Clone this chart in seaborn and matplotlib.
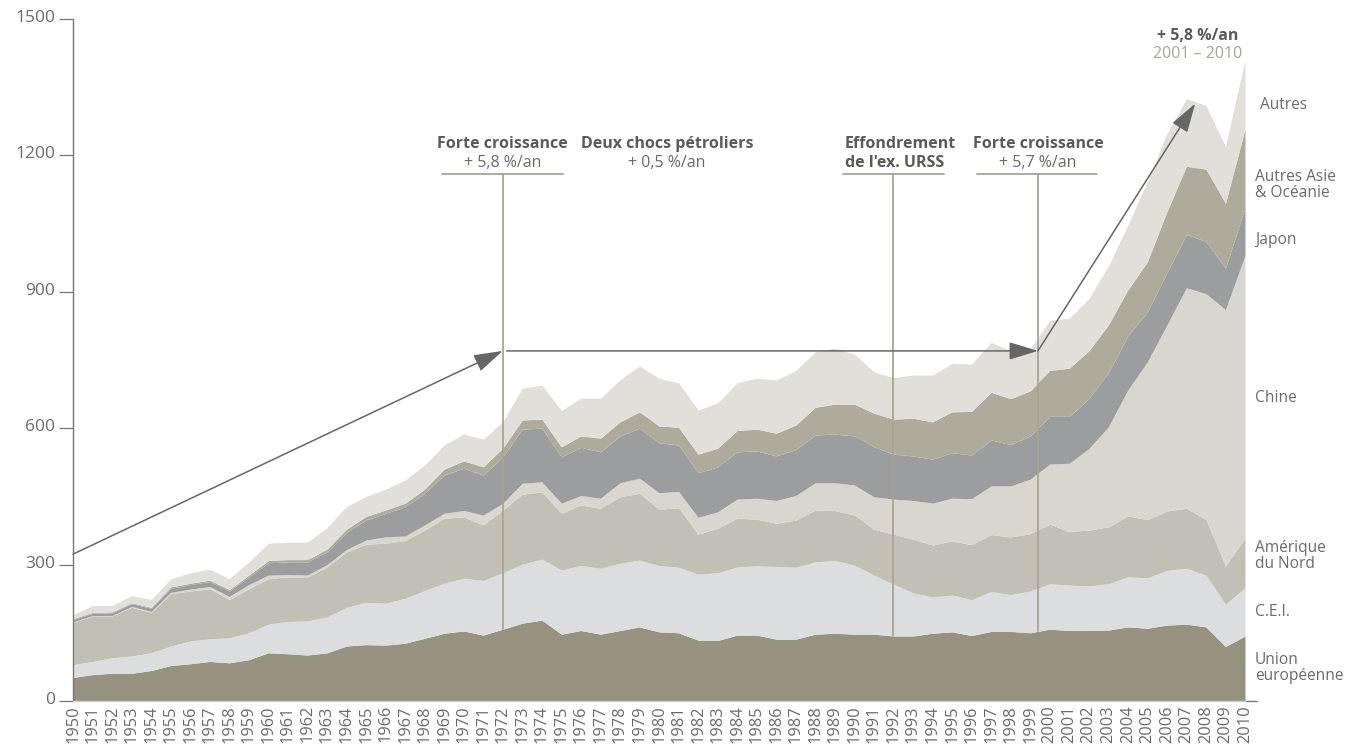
import numpy as np
import pandas as pd
import matplotlib
matplotlib.use("Agg")
import matplotlib.pyplot as plt
import matplotlib.transforms as mtransforms
import seaborn as sns

# production mondiale d'acier brut (Mt)
years = list(range(1950, 2011))

union_europeenne = [52, 58, 61, 61, 67, 78, 82, 87, 84, 91,
                    106, 104, 101, 106, 121, 124, 123, 127, 138, 149,
                    154, 145, 158, 171, 178, 147, 155, 147, 155, 163,
                    152, 150, 134, 133, 145, 145, 136, 136, 147, 149,
                    147, 147, 143, 143, 149, 152, 144, 153, 153, 150,
                    158, 155, 155, 156, 163, 160, 167, 169, 163, 120, 143]
cei = [28, 29, 34, 38, 39, 43, 50, 50, 55, 59,
       63, 71, 75, 79, 85, 93, 92, 99, 105, 110,
       116, 120, 124, 130, 134, 141, 143, 145, 148, 147,
       146, 144, 145, 149, 150, 152, 160, 158, 159, 160,
       152, 130, 114, 95, 80, 81, 79, 88, 81, 92,
       100, 100, 98, 102, 110, 111, 120, 123, 114, 93, 106]
amerique_nord = [93, 100, 92, 107, 89, 115, 110, 110, 84, 97,
                 100, 98, 97, 110, 122, 128, 132, 127, 133, 143,
                 135, 122, 138, 154, 148, 125, 133, 132, 146, 147,
                 124, 131, 88, 98, 107, 103, 95, 104, 114, 110,
                 110, 101, 110, 118, 114, 119, 121, 125, 127, 126,
                 131, 118, 123, 125, 134, 128, 131, 132, 122, 84, 110]
chine = [1, 1, 1, 2, 2, 3, 4, 5, 7, 9,
         8, 5, 4, 5, 5, 9, 14, 10, 11, 11,
         14, 22, 15, 24, 22, 22, 21, 22, 31, 33,
         36, 36, 37, 36, 42, 46, 50, 54, 60, 61,
         66, 71, 77, 85, 92, 94, 101, 107, 112, 120,
         132, 150, 179, 220, 277, 347, 409, 485, 497, 564, 621]
japon = [5, 5, 6, 6, 7, 9, 10, 11, 12, 17,
         27, 28, 29, 28, 38, 44, 52, 64, 70, 84,
         93, 88, 102, 119, 118, 102, 106, 102, 103, 110,
         110, 102, 98, 99, 104, 104, 98, 101, 105, 107,
         108, 110, 99, 98, 97, 100, 96, 101, 91, 95,
         105, 103, 110, 119, 119, 110, 115, 117, 115, 91, 106]
autres_asie = [2, 2, 2, 2, 2, 3, 3, 3, 3, 4,
               5, 5, 5, 6, 7, 8, 7, 8, 9, 13,
               16, 18, 19, 20, 20, 22, 25, 30, 31, 36,
               37, 39, 41, 41, 47, 48, 50, 54, 61, 66,
               70, 74, 77, 83, 82, 90, 96, 105, 101, 99,
               101, 106, 105, 105, 101, 110, 134, 150, 159, 143, 172]
autres = [9, 15, 14, 16, 17, 18, 23, 24, 24, 29,
          38, 38, 39, 47, 50, 44, 46, 51, 53, 53,
          59, 61, 58, 70, 75, 80, 83, 88, 92, 101,
          105, 98, 97, 100, 105, 112, 117, 120, 122, 123,
          110, 91, 91, 95, 103, 107, 104, 110, 105, 93,
          110, 110, 115, 129, 143, 177, 172, 149, 140, 125, 152]

regions = ["Union européenne", "C.E.I.", "Amérique du Nord", "Chine",
           "Japon", "Autres Asie & Océanie", "Autres"]
colors = ["#96927f", "#dcdddf", "#c2c0b4", "#d8d6cf", "#9c9d9f", "#aeab9c", "#e0dfda"]

df = pd.DataFrame({
    "Union européenne": union_europeenne,
    "C.E.I.": cei,
    "Amérique du Nord": amerique_nord,
    "Chine": chine,
    "Japon": japon,
    "Autres Asie & Océanie": autres_asie,
    "Autres": autres,
}, index=years)

sns.set_theme(style="white")
plt.rcParams["font.family"] = ["Open Sans", "DejaVu Sans"]

TXT = "#6a6a6a"
BOLD = "#5a5a5a"
KHAKI = "#a8a591"
ARROW = "#666666"
FS = 11.5

fig = plt.figure(figsize=(13.49, 7.51), dpi=100)
ax = fig.add_axes([73 / 1349, 50 / 751, (1245 - 73) / 1349, 682 / 751])

ax.stackplot(df.index, [df[r].values for r in regions], colors=colors, linewidth=0)

ax.set_xlim(1950, 2010)
ax.set_ylim(0, 1500)

# axes
sns.despine(ax=ax, top=True, right=True)
ax.spines["left"].set_color("#777777")
ax.spines["left"].set_linewidth(1.0)
ax.spines["bottom"].set_color("#cfcfcf")
ax.spines["bottom"].set_linewidth(1.0)
ax.set_yticks([0, 300, 600, 900, 1200, 1500])
ax.tick_params(axis="y", direction="out", length=10, width=0.9, color="#777777",
               labelsize=12.5, labelcolor=TXT, pad=3, left=True)
offset = mtransforms.ScaledTranslation(0, 0.03, fig.dpi_scale_trans)
for lab in ax.get_yticklabels():
    lab.set_transform(lab.get_transform() + offset)
ax.set_xticks(years)
ax.set_xticklabels([str(y) for y in years], rotation=90, fontsize=11.8, color=TXT)
ax.tick_params(axis="x", length=0, pad=3)
ax.grid(False)
ax.plot([2010, 2010.6], [0, 0], color="#777777", lw=1, clip_on=False)

# périodes
cum_eu = np.array(union_europeenne)
periods = [
    (1972.0, 1968.9, 1975.1),
    (1992.0, 1989.4, 1994.6),
    (1999.4, 1996.3, 2002.4),
]
for xv, x0, x1 in periods:
    ytop = np.interp(xv, years, cum_eu)
    ax.plot([xv, xv], [ytop, 1159], color=KHAKI, lw=1.3, zorder=4)
    ax.plot([x0, x1], [1159, 1159], color=KHAKI, lw=1.3, zorder=4)

ax.text(1972.0, 1226, "Forte croissance", ha="center", va="center",
        fontsize=FS, fontweight="bold", color=BOLD)
ax.text(1972.0, 1184, "+ 5,8 %/an", ha="center", va="center", fontsize=FS, color=TXT)
ax.text(1980.4, 1226, "Deux chocs pétroliers", ha="center", va="center",
        fontsize=FS, fontweight="bold", color=BOLD)
ax.text(1980.4, 1184, "+ 0,5 %/an", ha="center", va="center", fontsize=FS, color=TXT)
ax.text(1989.5, 1226, "Effondrement", ha="left", va="center",
        fontsize=FS, fontweight="bold", color=BOLD)
ax.text(1989.5, 1184, "de l'ex. URSS", ha="left", va="center",
        fontsize=FS, fontweight="bold", color=BOLD)
ax.text(1999.4, 1226, "Forte croissance", ha="center", va="center",
        fontsize=FS, fontweight="bold", color=BOLD)
ax.text(1999.4, 1184, "+ 5,7 %/an", ha="center", va="center", fontsize=FS, color=TXT)
ax.text(2007.6, 1462, "+ 5,8 %/an", ha="center", va="center",
        fontsize=FS, fontweight="bold", color=BOLD)
ax.text(2007.6, 1424, "2001 – 2010", ha="center", va="center", fontsize=FS, color=KHAKI)

# flèches de tendance
arrow_kw = dict(arrowstyle="-|>,head_length=1.8,head_width=0.55", mutation_scale=10,
                lw=1.1, color=ARROW, shrinkA=0, shrinkB=0)
ax.annotate("", xy=(1972.0, 770), xytext=(1950, 323), arrowprops=arrow_kw, zorder=5)
ax.annotate("", xy=(1999.4, 770), xytext=(1972.2, 770), arrowprops=arrow_kw, zorder=5)
ax.annotate("", xy=(2007.45, 1314), xytext=(1999.4, 770), arrowprops=arrow_kw, zorder=5)

# libellés des régions
right_labels = [
    (2010.75, 1311, "Autres"),
    (2010.5, 1135, "Autres Asie\n& Océanie"),
    (2010.5, 1014, "Japon"),
    (2010.5, 666, "Chine"),
    (2010.5, 319, "Amérique\ndu Nord"),
    (2010.5, 196, "C.E.I."),
    (2010.5, 73, "Union\neuropéenne"),
]
for xv, yv, s in right_labels:
    ax.text(xv, yv, s, ha="left", va="center", fontsize=11.2, color=TXT,
            linespacing=1.05, clip_on=False)

fig.savefig("out.png", dpi=100)
